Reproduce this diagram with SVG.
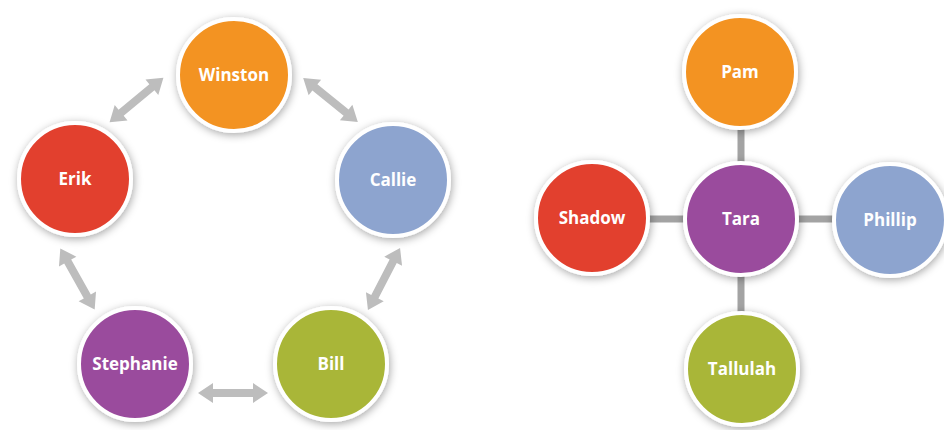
<svg xmlns="http://www.w3.org/2000/svg" xmlns:xlink="http://www.w3.org/1999/xlink" width="944" height="430" viewBox="0 0 944 430">
<defs>
<filter id="sh" x="-30%" y="-30%" width="160%" height="160%">
<feDropShadow dx="1" dy="2" stdDeviation="4" flood-color="#000" flood-opacity="0.35"/>
</filter>
<path id="arr" d="M-35,0 L-20,-10 L-20,-4 L20,-4 L20,-10 L35,0 L20,10 L20,4 L-20,4 L-20,10 Z" fill="#BDBDBD"/>
<style>
.n circle{stroke:#fff;stroke-width:4;filter:url(#sh)}
.n text{font-family:"Open Sans","Liberation Sans",sans-serif;font-weight:bold;font-size:17px;fill:#fff;text-anchor:middle}
.org{fill:#F39322}.red{fill:#E2402F}.blu{fill:#8DA4CF}.pur{fill:#9A4C9D}.grn{fill:#A9B637}
.ln{stroke:#A3A3A3;stroke-width:7}
</style>
</defs>
<rect width="944" height="430" fill="#fff"/>
<g id="connectors">
<use xlink:href="#arr" transform="translate(136.5,100) rotate(-39.7)"/>
<use xlink:href="#arr" transform="translate(330.5,100) rotate(38.7)"/>
<use xlink:href="#arr" transform="translate(384,279) rotate(117.3)"/>
<use xlink:href="#arr" transform="translate(77.5,279) rotate(60.6)"/>
<use xlink:href="#arr" transform="translate(233,393)"/>
<line class="ln" x1="741" y1="72" x2="741" y2="369"/>
<line class="ln" x1="592" y1="219" x2="890" y2="219"/>
</g>
<g id="winston" class="n"><circle class="org" cx="234" cy="75" r="56"/><text x="234" y="81">Winston</text></g>
<g id="erik" class="n"><circle class="red" cx="75" cy="179" r="56"/><text x="75" y="185">Erik</text></g>
<g id="callie" class="n"><circle class="blu" cx="393" cy="180" r="56"/><text x="393" y="186">Callie</text></g>
<g id="stephanie" class="n"><circle class="pur" cx="135" cy="364" r="56"/><text x="135" y="370">Stephanie</text></g>
<g id="bill" class="n"><circle class="grn" cx="331" cy="364" r="56"/><text x="331" y="370">Bill</text></g>
<g id="pam" class="n"><circle class="org" cx="740" cy="72" r="56"/><text x="740" y="78">Pam</text></g>
<g id="shadow" class="n"><circle class="red" cx="592" cy="218" r="56"/><text x="592" y="224">Shadow</text></g>
<g id="tara" class="n"><circle class="pur" cx="741" cy="219" r="56"/><text x="741" y="225">Tara</text></g>
<g id="phillip" class="n"><circle class="blu" cx="890" cy="220" r="56"/><text x="890" y="226">Phillip</text></g>
<g id="tallulah" class="n"><circle class="grn" cx="742" cy="369" r="56"/><text x="742" y="375">Tallulah</text></g>
</svg>
